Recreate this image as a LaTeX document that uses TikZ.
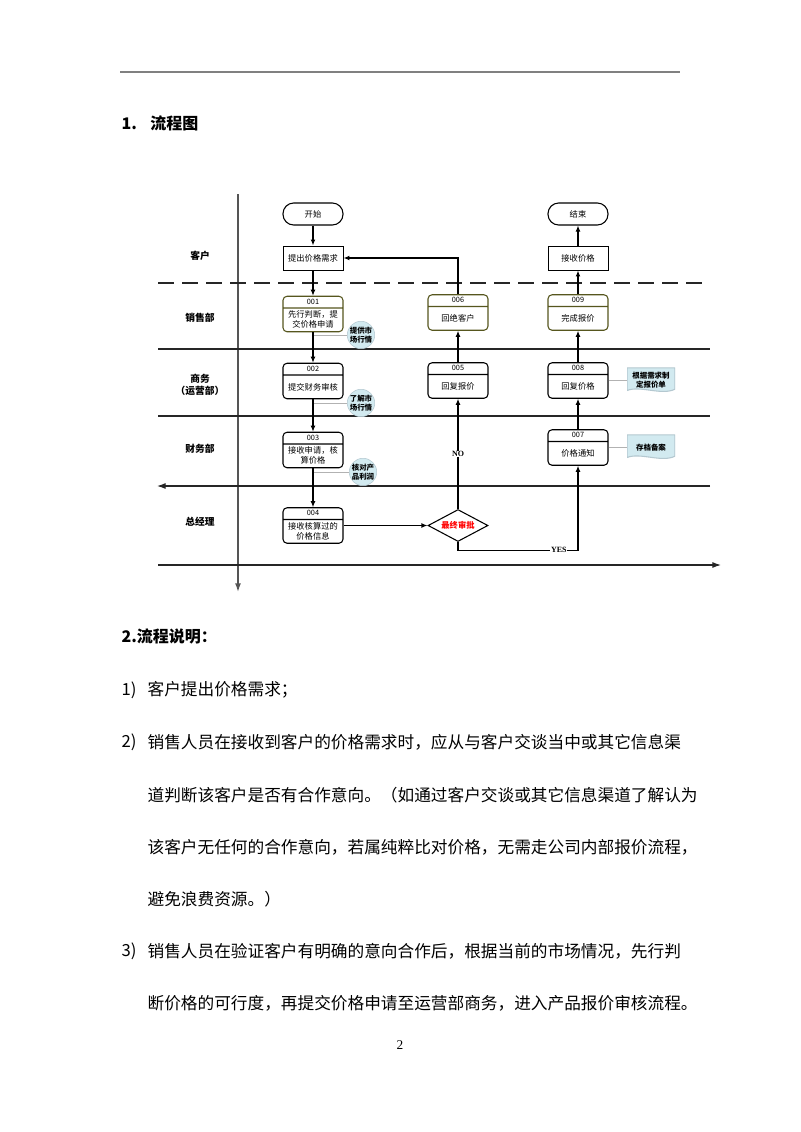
\documentclass[tikz,border=0pt]{standalone}
\usepackage{fontspec}
\setmainfont{Noto Sans CJK SC}
\newfontfamily\tnr{Liberation Serif}
\usetikzlibrary{shapes.geometric,shapes.multipart,arrows.meta,calc}

\definecolor{olivebd}{RGB}{86,86,30}
\definecolor{notefill}{RGB}{210,234,240}
\definecolor{notebd}{RGB}{180,200,208}
\definecolor{lanegray}{RGB}{85,85,85}

% code row + body of a step box
\newcommand{\proctext}[2]{{\fontsize{5.5}{6}\selectfont\rule[-1.5pt]{0pt}{6pt}#1}\nodepart{two}\parbox[c][15pt][c]{43pt}{\centering #2}}

\begin{document}
\begin{tikzpicture}[x=0.75pt,y=-0.75pt,>={Latex[length=4.5pt,width=3.6pt]},
  every node/.style={inner sep=1pt},
  small/.style={font=\fontsize{6.2}{7.5}\selectfont},
  lane/.style={font=\fontsize{7.3}{9}\selectfont\bfseries,align=center},
  term/.style={small,draw,line width=0.8pt,rounded corners=8pt,minimum width=45pt,minimum height=16.5pt},
  task/.style={small,draw,line width=0.7pt,minimum width=45pt,minimum height=18pt},
  proc/.style={small,draw,line width=0.8pt,rectangle split,rectangle split parts=2,rounded corners=3pt,fill=white},
  dec/.style={draw,line width=0.8pt,diamond,aspect=1.875,inner sep=0pt,minimum width=45pt,minimum height=24pt,text=red,font=\fontsize{6.2}{7.5}\selectfont\bfseries},
  note/.style={circle,draw=notebd,fill=notefill,minimum size=19pt,inner sep=0pt,align=center,font=\fontsize{5.6}{6.6}\selectfont\bfseries},
  doc/.style={fill=white,minimum width=36pt,minimum height=19pt,align=center,font=\fontsize{5.6}{6.8}\selectfont\bfseries,
    path picture={\filldraw[fill=notefill,draw=notebd,line width=0.8pt]
      (path picture bounding box.north west) -- (path picture bounding box.north east)
      -- ([yshift=3pt]path picture bounding box.south east)
      .. controls +(-10pt,-5pt) and +(10pt,4pt) .. ([yshift=2pt]path picture bounding box.south west) -- cycle;}},
  yn/.style={fill=white,inner sep=0.5pt,font=\tnr\fontsize{6}{7}\selectfont\bfseries},
  body/.style={anchor=west,font=\fontsize{12.5}{15}\selectfont},
  head/.style={anchor=west,font=\fontsize{12}{15}\selectfont\bfseries},
  sep/.style={line width=0.8pt,draw=black!85},
  axis/.style={-{Latex[length=6.5pt,width=4.5pt]}},
  flow/.style={->,line width=0.8pt},
  noteline/.style={draw=black!30,line width=0.7pt}]

  \useasboundingbox (0,0) rectangle (800,1132);

  % page head
  \draw[gray,line width=1.2pt] (120,72) -- (680,72);
  \node[head] (h1) at (120,123) {1.\hspace{10pt}流程图};

  % lanes
  \draw[lanegray,line width=1.1pt,axis] (238,194) -- (238,592);
  \draw[sep,dash pattern=on 12pt off 6pt] (158,283) -- (705,283);
  \draw[sep]      (158,349) -- (710,349);
  \draw[sep]      (158,416) -- (710,416);
  \draw[sep,axis] (710,486) -- (157,486);
  \draw[sep,axis] (158,565) -- (721,565);

  \node[lane] (l1) at (200,256) {客户};
  \node[lane] (l2) at (200,318) {销售部};
  \node[lane] (l3) at (200,385) {商务\\（运营部）};
  \node[lane] (l4) at (200,449) {财务部};
  \node[lane] (l5) at (200,522) {总经理};

  % steps
  \node[term]              (s)   at (313,214)   {开始};
  \node[task]              (req) at (313,258)   {提出价格需求};
  \node[proc,draw=olivebd] (p1)  at (313,314)   {\proctext{001}{先行判断，提\\交价格申请}};
  \node[proc]              (p2)  at (313,381)   {\proctext{002}{提交财务审核}};
  \node[proc]              (p3)  at (313,450)   {\proctext{003}{接收申请，核\\算价格}};
  \node[proc]              (p4)  at (313,525.5) {\proctext{004}{接收核算过的\\价格信息}};
  \node[dec]               (q)   at (458,525.5) {最终审批};
  \node[proc]              (p5)  at (458,380.5) {\proctext{005}{回复报价}};
  \node[proc,draw=olivebd] (p6)  at (458,312.5) {\proctext{006}{回绝客户}};
  \node[proc]              (p7)  at (578,447.5) {\proctext{007}{价格通知}};
  \node[proc]              (p8)  at (578,380.5) {\proctext{008}{回复价格}};
  \node[proc,draw=olivebd] (p9)  at (578,312.5) {\proctext{009}{完成报价}};
  \node[task]              (rcv) at (578,258)   {接收价格};
  \node[term]              (e)   at (578,214)   {结束};

  % notes
  \node[note] (c1) at (361,335) {提供市\\场行情};
  \node[note] (c2) at (361,403) {了解市\\场行情};
  \node[note] (c3) at (363,472) {核对产\\品利润};
  \node[doc]  (d1) at (651,380.5) {根据需求制\\定报价单};
  \node[doc]  (d2) at (651,447.5) {存档备案};
  \coordinate (a1) at (313,335);
  \coordinate (a2) at (313,403);
  \coordinate (a3) at (313,472);

  \path[noteline] (a1) edge (c1)
                  (a2) edge (c2)
                  (a3) edge (c3)
                  (p8) edge (d1)
                  (p7) edge (d2);

  \path[flow] (s)   edge (req)
              (req) edge (p1)
              (p1)  edge (p2)
              (p2)  edge (p3)
              (p3)  edge (p4)
              (p4)  edge (q)
              (q)   edge node[yn,midway] {NO} (p5)
              (p5)  edge (p6)
              (p7)  edge (p8)
              (p8)  edge (p9)
              (p9)  edge (rcv)
              (rcv) edge (e);

  \draw[flow] (p6) |- (req);
  \draw[flow] (q.south) -- ++(0,8) -| node[yn,pos=0.42] {YES} (p7);

  % text
  \node[head] (h2) at (120,636) {2.流程说明：};
  \node[body] (i1) at (120,690) {1)};
  \node[body] (t1) at (146,690) {客户提出价格需求；};
  \node[body] (i2) at (120,742) {2)};
  \node[body] (t2) at (146,742) {销售人员在接收到客户的价格需求时，应从与客户交谈当中或其它信息渠};
  \node[body] (t3) at (146,795) {道判断该客户是否有合作意向。（如通过客户交谈或其它信息渠道了解认为};
  \node[body] (t4) at (146,847) {该客户无任何的合作意向，若属纯粹比对价格，无需走公司内部报价流程，};
  \node[body] (t5) at (146,899) {避免浪费资源。）};
  \node[body] (i3) at (120,951) {3)};
  \node[body] (t6) at (146,951) {销售人员在验证客户有明确的意向合作后，根据当前的市场情况，先行判};
  \node[body] (t7) at (146,1003) {断价格的可行度，再提交价格申请至运营部商务，进入产品报价审核流程。};
  \node[font=\tnr\fontsize{10}{12}\selectfont] (pg) at (400,1045) {2};
\end{tikzpicture}
\end{document}
